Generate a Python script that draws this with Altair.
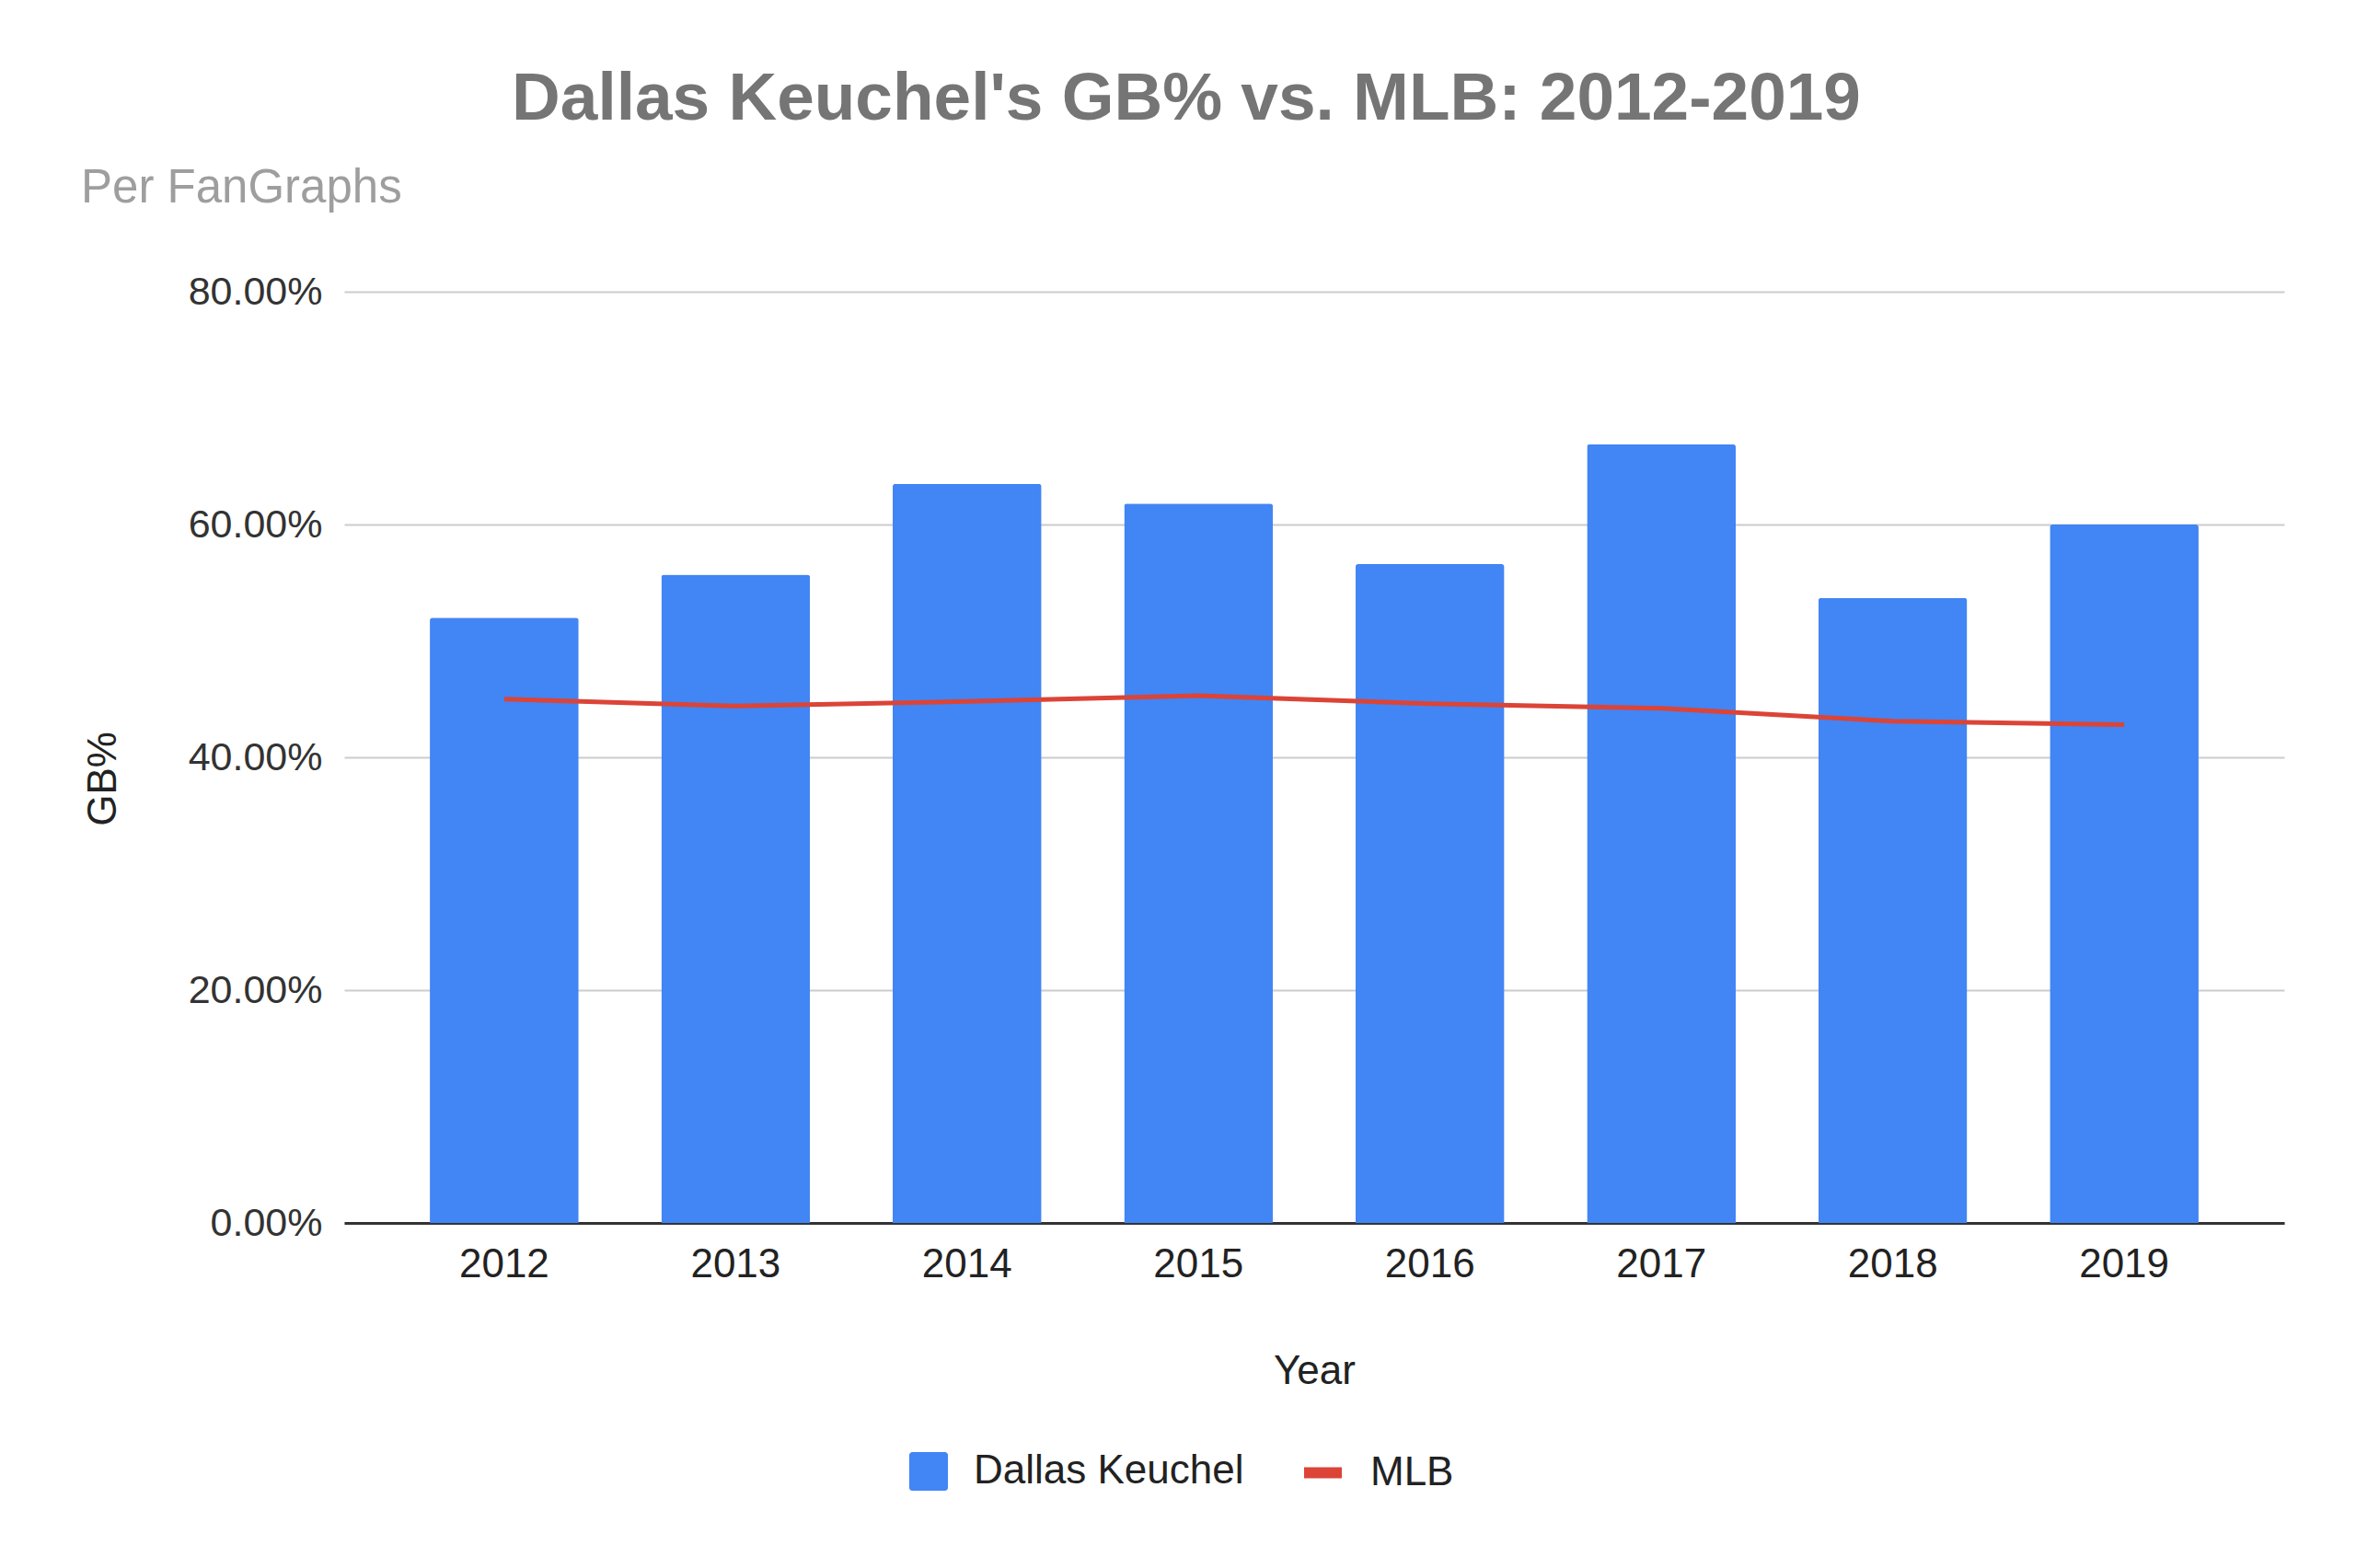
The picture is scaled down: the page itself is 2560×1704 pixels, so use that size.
import altair as alt
import pandas as pd

# ---- data ----
years = ["2012", "2013", "2014", "2015", "2016", "2017", "2018", "2019"]
keuchel_gb = [0.520, 0.557, 0.635, 0.618, 0.566, 0.669, 0.537, 0.600]
mlb_gb = [0.450, 0.444, 0.448, 0.453, 0.446, 0.442, 0.431, 0.428]
y_ticks = [0.0, 0.2, 0.4, 0.6, 0.8]
series_names = ["Dallas Keuchel", "MLB"]
TITLE = "Dallas Keuchel's GB% vs. MLB: 2012-2019"
SUBTITLE = "Per FanGraphs"

FONT = "Liberation Sans"
BLUE = "#4285F4"
RED = "#DB4437"

bars_df = pd.DataFrame({"Year": years, "GB": keuchel_gb, "player": series_names[0]})
line_df = pd.DataFrame({"Year": years, "GB": mlb_gb, "league": series_names[1]})
sub_df = pd.DataFrame({"t": [SUBTITLE]})

ROUNDED_SQUARE = ("M-0.84,-1H0.84A0.16,0.16 0 0 1 1,-0.84V0.84A0.16,0.16 0 0 1 0.84,1"
                  "H-0.84A0.16,0.16 0 0 1 -1,0.84V-0.84A0.16,0.16 0 0 1 -0.84,-1Z")

x_enc = alt.X(
    "Year:N", title="Year", sort=years,
    scale=alt.Scale(type="band", paddingInner=0.357, paddingOuter=0.37),
    axis=alt.Axis(
        labelFont=FONT, labelFontSize=44, labelColor="#222222", labelAngle=0,
        labelBaseline="alphabetic", labelPadding=58, ticks=False, tickSize=0,
        domainColor="#333333", domainWidth=3, grid=False,
        titleFont=FONT, titleFontSize=44, titleFontWeight="normal", titleColor="#222222",
        titleBaseline="alphabetic", titleY=174,
    ),
)

y_enc = alt.Y(
    "GB:Q", title="GB%",
    scale=alt.Scale(domain=[0, 0.8], nice=False, zero=True),
    axis=alt.Axis(
        values=y_ticks, format=".2%",
        labelFont=FONT, labelFontSize=43, labelColor="#333333", labelPadding=24,
        ticks=False, tickSize=0, domain=False,
        gridColor="#cccccc", gridWidth=2,
        titleFont=FONT, titleFontSize=44, titleFontWeight="normal", titleColor="#222222",
        titleAngle=270, titleBaseline="alphabetic", titleAlign="center",
        titleX=-249, titleY=529,
    ),
)

bars = alt.Chart(bars_df).mark_bar(cornerRadiusTopLeft=3, cornerRadiusTopRight=3).encode(
    x=x_enc,
    y=y_enc,
    fill=alt.Fill(
        "player:N",
        scale=alt.Scale(domain=[series_names[0]], range=[BLUE]),
        legend=alt.Legend(
            title=None, orient="none", legendX=613, legendY=1260, padding=0,
            symbolType=ROUNDED_SQUARE, symbolSize=1764, symbolStrokeWidth=0,
            symbolFillColor=BLUE, labelOffset=27, labelLimit=1000,
            labelFont=FONT, labelFontSize=44, labelColor="#222222",
        ),
    ),
)

line = alt.Chart(line_df).mark_line(strokeWidth=5).encode(
    x=alt.X("Year:N", sort=years),
    y=alt.Y("GB:Q"),
    stroke=alt.Stroke(
        "league:N",
        scale=alt.Scale(domain=[series_names[1]], range=[RED]),
        legend=alt.Legend(
            title=None, orient="none", legendX=1037, legendY=1257, padding=0,
            symbolType="stroke", symbolSize=1681, symbolStrokeWidth=12,
            labelOffset=25, labelLimit=1000,
            labelFont=FONT, labelFontSize=44, labelColor="#222222",
        ),
    ),
)

subtitle = alt.Chart(sub_df).mark_text(
    align="left", baseline="alphabetic", font=FONT, fontSize=51, color="#9e9e9e",
    x=-286, y=-97,
).encode(text="t:N")

chart = alt.layer(bars, line, subtitle).properties(
    width=2108,
    height=1012,
    background="white",
    title=alt.TitleParams(
        TITLE, font=FONT, fontSize=73, fontWeight="bold", color="#757575",
        anchor="middle", frame="group", dx=-139, baseline="alphabetic", offset=0, dy=24,
    ),
    autosize=alt.AutoSizeParams(type="none"),
    padding={"left": 366, "top": 309, "right": 70, "bottom": 367},
).configure_view(stroke="transparent", strokeWidth=0)

chart.save("out.html", embed_options={"renderer": "svg", "actions": False})
